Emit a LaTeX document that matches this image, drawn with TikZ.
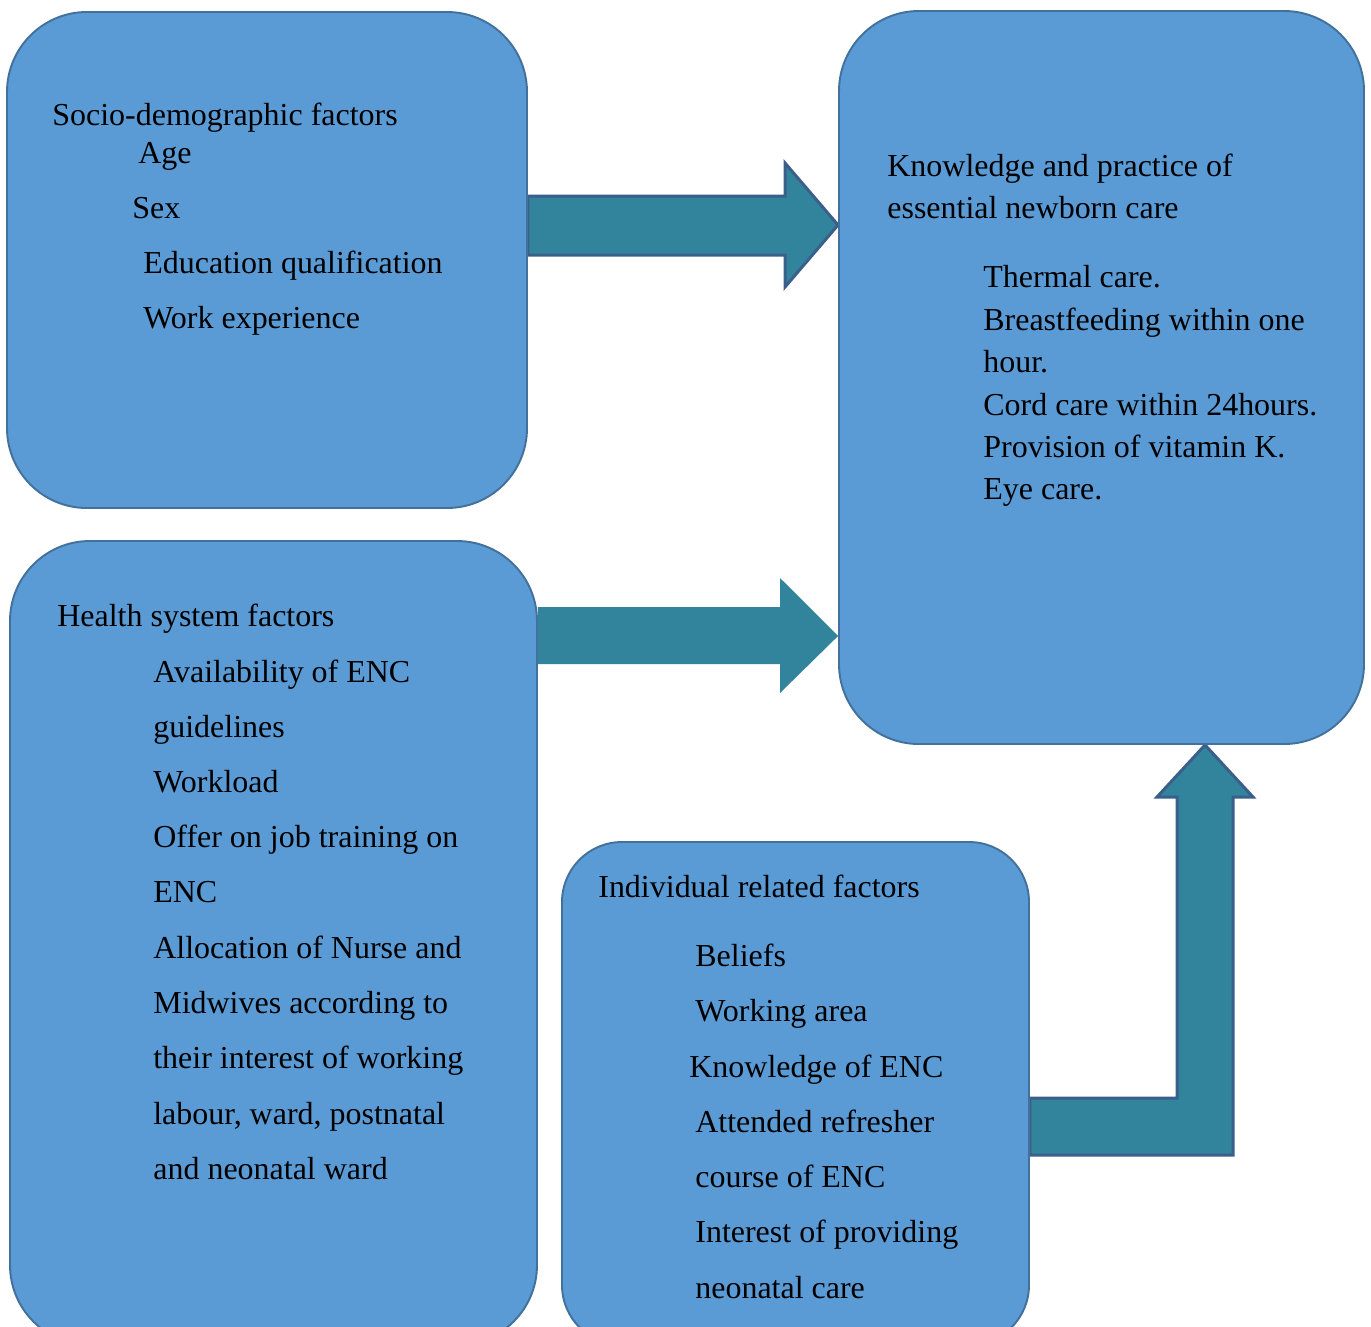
\documentclass[tikz,border=0pt]{standalone}
\usepackage{fontspec}
\setmainfont{Liberation Serif}
\usetikzlibrary{fit,backgrounds}
\definecolor{boxFill}{RGB}{91,155,213}
\definecolor{boxLine}{RGB}{65,113,156}
\definecolor{arrowFill}{RGB}{49,132,155}
\definecolor{arrowLine}{RGB}{58,95,138}

\begin{document}
\begin{tikzpicture}[x=0.02cm, y=-0.02cm,
    factorbox/.style={draw=boxLine, line width=1.1pt, fill=boxFill, inner sep=0pt, rounded corners=1.6cm},
    blockarrow/.style={fill=arrowFill, draw=arrowLine, line width=1.7pt, line join=miter},
    item/.style={anchor=base west, inner sep=0pt, font=\fontsize{18.2}{22}\selectfont}]
      \useasboundingbox (0,0) rectangle (1371,1326);
      \clip (0,0) rectangle (1371,1326);

      \node[factorbox, fit={(7,12) (527,508)}] (socio) {};
      \node[factorbox, fit={(10,541) (537,1345)}] (health) {};
      \node[factorbox, rounded corners=1.2cm, fit={(562,842) (1029,1345)}] (indiv) {};
      \node[factorbox, fit={(839,11) (1364,744)}] (enc) {};

      % block arrows into the outcome box
      \begin{scope}[on background layer]
        \draw[blockarrow] (socio.east |- 0,196) -- (785,196) -- (785,163) -- (enc.west |- 0,225)
          -- (785,287) -- (785,255) -- (socio.east |- 0,255) -- cycle;
        \fill[arrowFill] (health.east |- 0,607) -- (780,607) -- (780,578) -- (enc.west |- 0,636)
          -- (780,693) -- (780,664) -- (health.east |- 0,664) -- cycle;
        \draw[blockarrow] (indiv.east |- 0,1098) -- (1177,1098) -- (1177,797) -- (1157,797)
          -- (enc.south -| 1205,0) -- (1253,797) -- (1233,797) -- (1233,1155)
          -- (indiv.east |- 0,1155) -- cycle;
      \end{scope}

      \foreach \x/\y/\t [count=\i] in {52/125/Socio-demographic factors, 138/163/Age,
          132/218/Sex, 143/273/Education qualification, 143/328/Work experience}
        \node[item] (socio-\i) at (\x,\y) {\t};

      \foreach \x/\y/\t [count=\i] in {887/176/Knowledge and practice of, 887/218/essential newborn care,
          983/287/Thermal care., 983/330/Breastfeeding within one, 983/372/hour.,
          983/415/Cord care within 24hours., 983/457/Provision of vitamin K., 983/499/Eye care.}
        \node[item] (enc-\i) at (\x,\y) {\t};

      \foreach \x/\y/\t [count=\i] in {57/626/Health system factors, 153/682/Availability of ENC,
          153/737/guidelines, 153/792/Workload, 153/847/Offer on job training on, 153/902/ENC,
          153/958/Allocation of Nurse and, 153/1013/Midwives according to,
          153/1068/their interest of working, 153/1124/{labour, ward, postnatal},
          153/1179/and neonatal ward}
        \node[item] (health-\i) at (\x,\y) {\t};

      \foreach \x/\y/\t [count=\i] in {598/897/Individual related factors, 695/966/Beliefs,
          695/1021/Working area, 689/1077/Knowledge of ENC, 695/1132/Attended refresher,
          695/1187/course of ENC, 695/1242/Interest of providing, 695/1298/neonatal care}
        \node[item] (indiv-\i) at (\x,\y) {\t};
    \end{tikzpicture}
\end{document}
